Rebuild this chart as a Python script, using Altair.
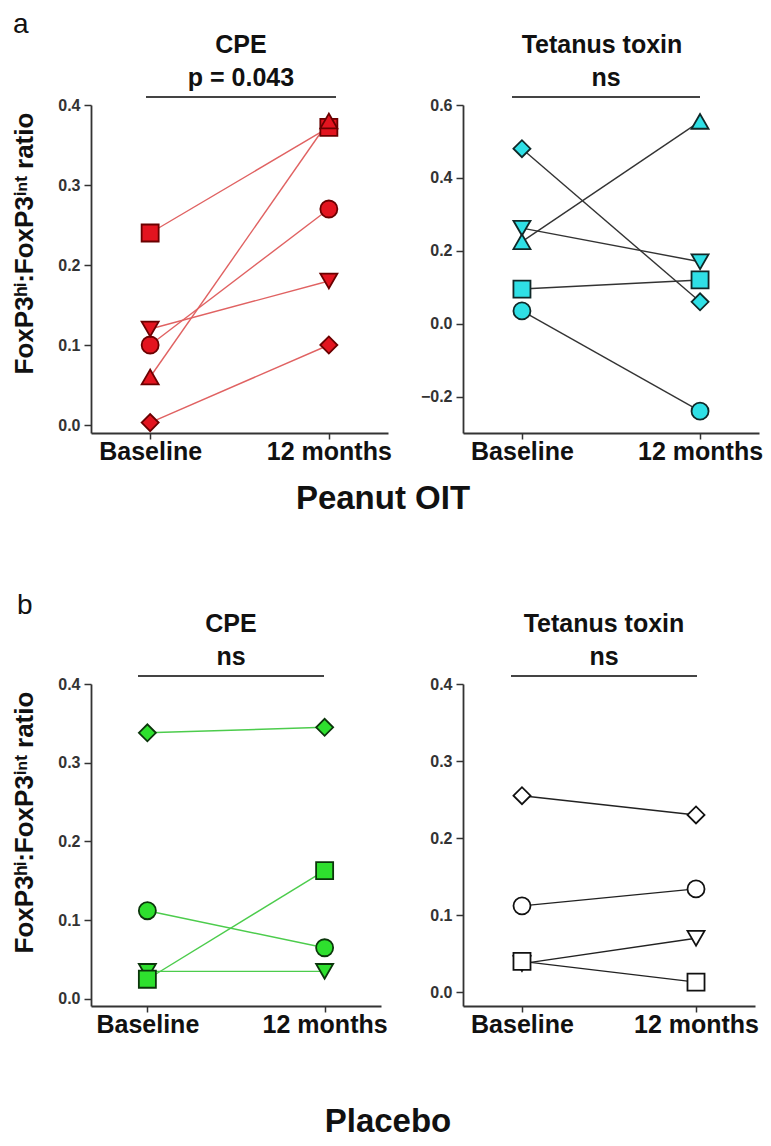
import altair as alt
import pandas as pd

FONT = "Liberation Sans"
times = ["Baseline", "12 months"]

# Panel a – Peanut OIT, CPE
oit_cpe_shapes = ["square", "triangle-up", "circle", "triangle-down", "diamond"]
oit_cpe_base = [0.24, 0.06, 0.10, 0.12, 0.003]
oit_cpe_12m = [0.372, 0.38, 0.27, 0.18, 0.10]

# Panel a – Peanut OIT, Tetanus toxin
oit_tt_shapes = ["diamond", "triangle-down", "triangle-up", "square", "circle"]
oit_tt_base = [0.48, 0.262, 0.225, 0.095, 0.035]
oit_tt_12m = [0.06, 0.17, 0.555, 0.12, -0.24]

# Panel b – Placebo, CPE
pl_cpe_shapes = ["diamond", "circle", "triangle-down", "square"]
pl_cpe_base = [0.338, 0.112, 0.035, 0.025]
pl_cpe_12m = [0.345, 0.065, 0.035, 0.163]

# Panel b – Placebo, Tetanus toxin
pl_tt_shapes = ["diamond", "circle", "triangle-down", "square"]
pl_tt_base = [0.255, 0.112, 0.037, 0.04]
pl_tt_12m = [0.23, 0.134, 0.07, 0.013]

y_title = "FoxP3ʰⁱ:FoxP3ⁱⁿᵗ ratio"


def make_df(shapes, base, m12):
    rows = []
    for i, (s, b, m) in enumerate(zip(shapes, base, m12)):
        rows.append({"subject": i, "shape": s, "time": times[0], "value": b})
        rows.append({"subject": i, "shape": s, "time": times[1], "value": m})
    return pd.DataFrame(rows)


def panel(shapes, base, m12, fill, stroke, line_color, domain, ticks, w, h,
          pad, t1, t2, bar, show_ytitle, letter=None, group=None):
    df = make_df(shapes, base, m12)
    x = alt.X("time:N", sort=times, title=None,
              scale=alt.Scale(type="point", padding=pad),
              axis=alt.Axis(labelFont=FONT, labelFontSize=25, labelFontWeight="bold",
                            labelColor="#111", labelAngle=0, labelPadding=0,
                            domainColor="#333", domainWidth=2.2, tickColor="#333",
                            tickWidth=1.5, tickSize=6, grid=False))
    yaxis = dict(values=ticks, format=".1f", labelFont=FONT, labelFontSize=16,
                 labelFontWeight="bold", labelColor="#333", labelPadding=4,
                 domainColor="#333", domainWidth=1.8, tickColor="#333", tickWidth=1.5,
                 tickSize=7, grid=False)
    if show_ytitle:
        yaxis.update(title=y_title, titleFont=FONT, titleFontSize=26,
                     titleFontWeight="bold", titleColor="#111", titlePadding=20,
                     titleY=138)
    else:
        yaxis.update(title=None)
    y = alt.Y("value:Q", scale=alt.Scale(domain=domain, nice=False, zero=False),
              axis=alt.Axis(**yaxis))

    lines = alt.Chart(df).mark_line(color=line_color, strokeWidth=1.4).encode(
        x=x, y=y, detail="subject:N", order=alt.Order("time:N", sort="descending"))
    pts = alt.Chart(df).mark_point(filled=True, size=290, fill=fill, stroke=stroke,
                                   strokeWidth=1.8, opacity=1, fillOpacity=1).encode(
        x=x, y=y, shape=alt.Shape("shape:N", scale=None, legend=None))

    tdf = pd.DataFrame({"t1": [t1], "t2": [t2]})
    mid = (bar[0] + bar[1]) / 2
    title1 = alt.Chart(tdf).mark_text(font=FONT, fontSize=25, fontWeight="bold",
                                      color="#111", baseline="middle").encode(
        x=alt.value(bar[2] if len(bar) > 2 else mid), y=alt.value(-60), text="t1:N")
    title2 = alt.Chart(tdf).mark_text(font=FONT, fontSize=25, fontWeight="bold",
                                      color="#111", baseline="middle").encode(
        x=alt.value(mid), y=alt.value(-27), text="t2:N")
    rule = alt.Chart(tdf).mark_rule(color="#444", strokeWidth=2).encode(
        x=alt.value(bar[0]), x2=alt.value(bar[1]), y=alt.value(-8))

    layers = [rule, title1, title2, lines, pts]
    if letter is not None:
        ldf = pd.DataFrame({"l": [letter[0]]})
        layers.append(alt.Chart(ldf).mark_text(font=FONT, fontSize=28, color="#111",
                                               align="left", baseline="alphabetic").encode(
            x=alt.value(letter[1]), y=alt.value(letter[2]), text="l:N"))
    if group is not None:
        gdf = pd.DataFrame({"g": [group[0]]})
        layers.append(alt.Chart(gdf).mark_text(font=FONT, fontSize=33, fontWeight="bold",
                                               color="#111", align="center",
                                               baseline="alphabetic").encode(
            x=alt.value(group[1]), y=alt.value(group[2]), text="g:N"))
    return alt.layer(*layers).properties(width=w, height=h)


red, red_s = "#e3141f", "#6a0000"
cyan, cyan_s = "#2fe0e6", "#102828"
green, green_s = "#2ee02e", "#0b360b"

tl = panel(oit_cpe_shapes, oit_cpe_base, oit_cpe_12m, red, red_s, "#e06262",
           [-0.01, 0.4], [0.0, 0.1, 0.2, 0.3, 0.4], 297, 328, 0.331,
           "CPE", "p = 0.043", (55, 245), True,
           letter=("a", -78, -72), group=("Peanut OIT", 292, 404))
tr = panel(oit_tt_shapes, oit_tt_base, oit_tt_12m, cyan, cyan_s, "#333333",
           [-0.3, 0.6], [-0.2, 0.0, 0.2, 0.4, 0.6], 296, 328, 0.331,
           "Tetanus toxin", "ns", (49, 237, 139), False)
bl = panel(pl_cpe_shapes, pl_cpe_base, pl_cpe_12m, green, green_s, "#4ccc4c",
           [-0.009, 0.4], [0.0, 0.1, 0.2, 0.3, 0.4], 290, 322, 0.318,
           "CPE", "ns", (47, 233), True,
           letter=("b", -74, -70), group=("Placebo", 297, 448))
br = panel(pl_tt_shapes, pl_tt_base, pl_tt_12m, "white", "#111", "#222222",
           [-0.018, 0.4], [0.0, 0.1, 0.2, 0.3, 0.4], 292, 322, 0.339,
           "Tetanus toxin", "ns", (48, 234), False)

chart = alt.concat(tl, tr, bl, br, columns=2,
                   spacing=alt.RowColnumber(row=251, column=75),
                   bounds="flush").configure_view(stroke=None).properties(
    background="white", padding={"left": 3, "top": 3, "right": 0, "bottom": 0})

chart.save("out.html", embed_options={"renderer": "svg", "actions": False})
